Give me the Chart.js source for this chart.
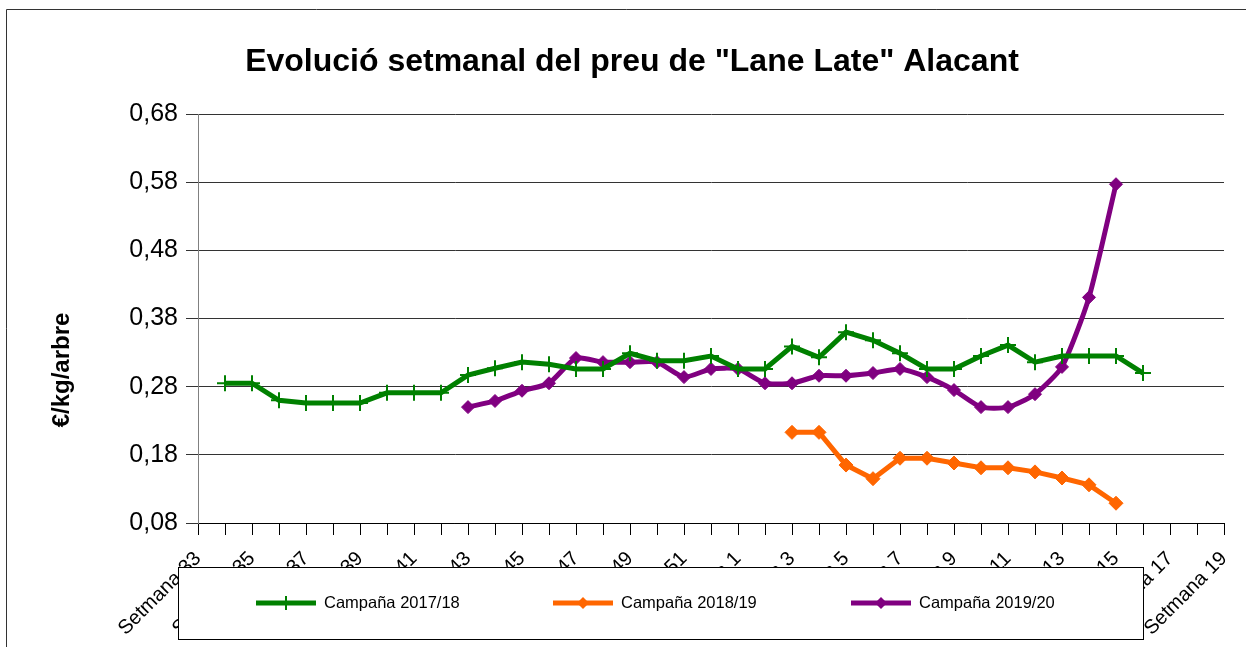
<!DOCTYPE html>
<html>
<head>
<meta charset="utf-8">
<script src="https://cdn.jsdelivr.net/npm/chart.js@4"></script>
<style>
  body { margin: 0; background: #fff; }
  #wrap { width: 1246px; height: 647px; position: relative; }
</style>
</head>
<body>
<div id="wrap"><canvas id="chart"></canvas></div>
<script>
const weeks = [
  "Setmana 33", "Setmana 34", "Setmana 35", "Setmana 36", "Setmana 37", "Setmana 38",
  "Setmana 39", "Setmana 40", "Setmana 41", "Setmana 42", "Setmana 43", "Setmana 44",
  "Setmana 45", "Setmana 46", "Setmana 47", "Setmana 48", "Setmana 49", "Setmana 50",
  "Setmana 51", "Setmana 52", "Setmana 1", "Setmana 2", "Setmana 3", "Setmana 4",
  "Setmana 5", "Setmana 6", "Setmana 7", "Setmana 8", "Setmana 9", "Setmana 10",
  "Setmana 11", "Setmana 12", "Setmana 13", "Setmana 14", "Setmana 15", "Setmana 16",
  "Setmana 17", "Setmana 18", "Setmana 19"
];

// Campaña 2017/18 (setmana 34 -> setmana 16)
const camp1718 = [
  null, 0.285, 0.285, 0.260, 0.256, 0.256, 0.256, 0.271, 0.271, 0.271,
  0.297, 0.307, 0.316, 0.313, 0.306, 0.306, 0.329, 0.318, 0.318, 0.325,
  0.306, 0.306, 0.339, 0.323, 0.360, 0.348, 0.329, 0.306, 0.306, 0.325,
  0.341, 0.316, 0.325, 0.325, 0.325, 0.300, null, null, null
];

// Campaña 2018/19 (setmana 3 -> setmana 15)
const camp1819 = [
  null, null, null, null, null, null, null, null, null, null,
  null, null, null, null, null, null, null, null, null, null,
  null, null, 0.213, 0.213, 0.165, 0.145, 0.175, 0.175, 0.168, 0.161,
  0.161, 0.155, 0.146, 0.136, 0.109, null, null, null, null
];

// Campaña 2019/20 (setmana 43 -> setmana 15)
const camp1920 = [
  null, null, null, null, null, null, null, null, null, null,
  0.250, 0.259, 0.274, 0.285, 0.322, 0.316, 0.316, 0.316, 0.294, 0.306,
  0.306, 0.285, 0.285, 0.296, 0.296, 0.300, 0.306, 0.294, 0.275, 0.250,
  0.250, 0.269, 0.309, 0.411, 0.577, null, null, null, null
];

const yTicks = [0.08, 0.18, 0.28, 0.38, 0.48, 0.58, 0.68];

const FONT = "'Liberation Sans', Arial, sans-serif";
const green = "#008000";
const orange = "#FF6600";
const purple = "#800080";

// marc exterior, títol, títol de l'eix i llegenda dibuixats a mà
const decorations = {
  id: "decorations",
  beforeDraw(chart) {
    const c = chart.ctx;
    c.save();
    c.strokeStyle = "#333";
    c.lineWidth = 1;
    c.beginPath();
    c.moveTo(6.5, 647);
    c.lineTo(6.5, 9.5);
    c.lineTo(1246, 9.5);
    c.stroke();

    c.fillStyle = "#000";
    c.font = "bold 32px " + FONT;
    c.textAlign = "center";
    c.textBaseline = "alphabetic";
    c.fillText('Evolució setmanal del preu de "Lane Late" Alacant', 632, 71);

    c.translate(62, 370);
    c.rotate(-Math.PI / 2);
    c.font = "bold 24px " + FONT;
    c.textBaseline = "middle";
    c.fillText("€/kg/arbre", 0, 0);
    c.restore();
  },
  afterDraw(chart) {
    const c = chart.ctx;
    c.save();
    c.fillStyle = "#fff";
    c.fillRect(178, 567, 965, 72);
    c.strokeStyle = "#000";
    c.lineWidth = 1;
    c.strokeRect(178.5, 567.5, 965, 72);

    const items = [
      { label: "Campaña 2017/18", color: green, x: 256, marker: "cross" },
      { label: "Campaña 2018/19", color: orange, x: 553, marker: "diamond" },
      { label: "Campaña 2019/20", color: purple, x: 851, marker: "diamond" },
    ];
    const y = 603;
    items.forEach((it) => {
      c.strokeStyle = it.color;
      c.fillStyle = it.color;
      c.lineWidth = 5;
      c.beginPath();
      c.moveTo(it.x, y);
      c.lineTo(it.x + 60, y);
      c.stroke();
      const mx = it.x + 30;
      if (it.marker === "cross") {
        c.lineWidth = 2;
        c.beginPath();
        c.moveTo(mx, y - 7);
        c.lineTo(mx, y + 7);
        c.stroke();
      } else {
        c.beginPath();
        c.moveTo(mx, y - 6);
        c.lineTo(mx + 6, y);
        c.lineTo(mx, y + 6);
        c.lineTo(mx - 6, y);
        c.closePath();
        c.fill();
      }
      c.fillStyle = "#000";
      c.font = "16.5px " + FONT;
      c.textAlign = "left";
      c.textBaseline = "middle";
      c.fillText(it.label, it.x + 68, y);
    });
    c.restore();
  },
};

const ctx = document.getElementById("chart").getContext("2d");

const chart = new Chart(ctx, {
  type: "line",
  data: {
    labels: weeks,
    datasets: [
      {
        label: "Campaña 2017/18",
        data: camp1718,
        borderColor: green,
        backgroundColor: green,
        borderWidth: 5,
        pointStyle: "cross",
        pointRadius: 8,
        pointBorderWidth: 2,
        tension: 0,
      },
      {
        label: "Campaña 2018/19",
        data: camp1819,
        borderColor: orange,
        backgroundColor: orange,
        borderWidth: 5,
        pointStyle: "rectRot",
        pointRadius: 7,
        pointBorderWidth: 1,
        tension: 0,
      },
      {
        label: "Campaña 2019/20",
        data: camp1920,
        borderColor: purple,
        backgroundColor: purple,
        borderWidth: 5,
        pointStyle: "rectRot",
        pointRadius: 6.5,
        pointBorderWidth: 1,
        tension: 0.2,
      },
    ],
  },
  options: {
    responsive: true,
    maintainAspectRatio: false,
    animation: false,
    layout: { padding: { top: 114, right: 22, left: 0, bottom: 0 } },
    plugins: {
      legend: { display: false },
      tooltip: { enabled: false },
    },
    scales: {
      x: {
        offset: false,
        afterFit(scale) {
          scale.height = 124;
          scale.paddingLeft = 0;
          scale.paddingRight = 0;
        },
        grid: {
          drawOnChartArea: false,
          color: "#000",
          tickLength: 12,
        },
        border: { color: "#000", width: 1 },
        ticks: {
          autoSkip: false,
          maxRotation: 45,
          minRotation: 45,
          padding: 12,
          color: "#000",
          font: { family: FONT, size: 20 },
          callback: function (value, index) {
            return index % 2 === 0 ? this.getLabelForValue(value) : "";
          },
        },
      },
      y: {
        min: 0.08,
        max: 0.68,
        afterFit(scale) {
          scale.width = 198;
        },
        afterBuildTicks(scale) {
          scale.ticks = yTicks.map((v) => ({ value: v }));
        },
        grid: {
          color: "#333",
          tickLength: 12,
        },
        border: { color: "#808080", width: 1 },
        ticks: {
          padding: 8,
          color: "#000",
          font: { family: FONT, size: 25 },
          callback: (v) => v.toFixed(2).replace(".", ","),
        },
      },
    },
  },
  plugins: [decorations],
});
</script>
</body>
</html>
